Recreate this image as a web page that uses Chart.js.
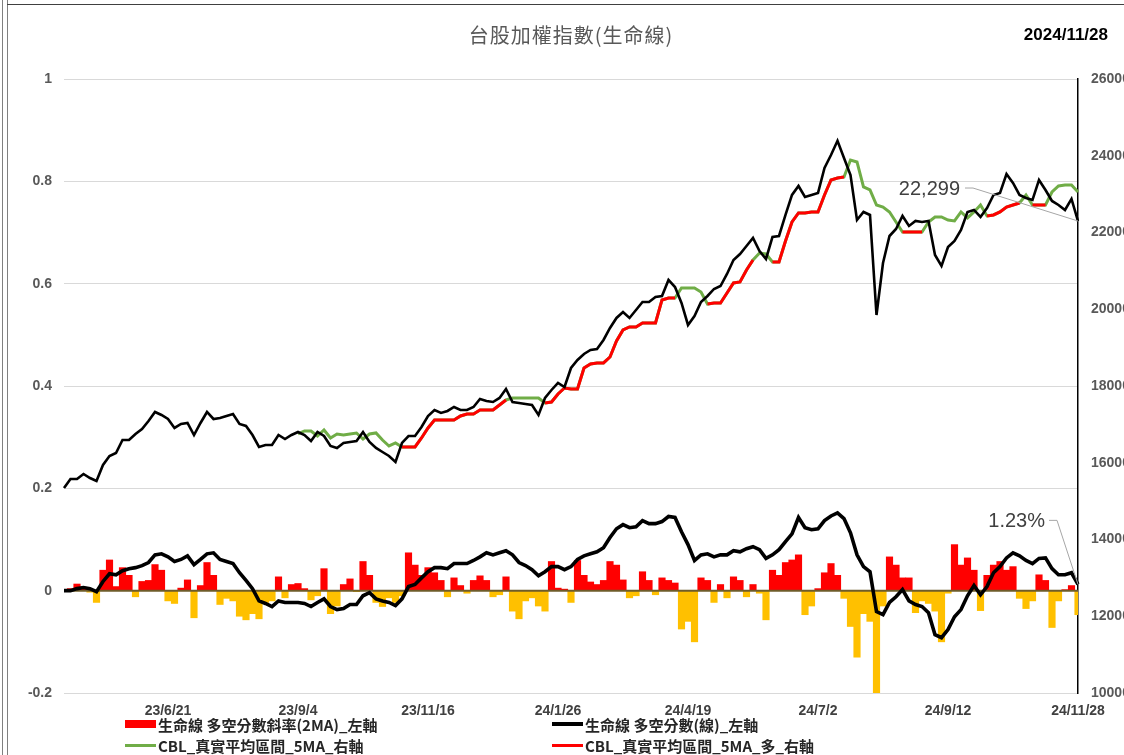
<!DOCTYPE html>
<html>
<head>
<meta charset="utf-8">
<script src="https://cdn.jsdelivr.net/npm/chart.js@4.4.1/dist/chart.umd.min.js"></script>
<style>
  html, body { margin: 0; padding: 0; background: #fff; overflow: hidden; }
  #wrap { position: relative; width: 1124px; height: 755px; }
  #chart { position: absolute; left: 0; top: 0; }
  .frame-l { position: absolute; left: 2px; top: 0; width: 4px; height: 755px; border-left: 1px solid #808080; border-right: 1px solid #808080; }
  .frame-t { position: absolute; left: 7px; top: 4px; right: 0; border-top: 1px solid #404040; }
  #title { position: absolute; left: 64px; width: 1014px; top: 23px; text-align: center; font: 20px 'Noto Sans CJK TC', sans-serif; letter-spacing: 1px; color: #595959; line-height: 24px; }
  #date { position: absolute; right: 16px; top: 24px; font: bold 17px 'Liberation Sans', Arial, sans-serif; color: #000; line-height: 22px; }
  .lg { position: absolute; display: flex; align-items: center; height: 20px; font: bold 15px 'Noto Sans CJK TC', sans-serif; color: #262626; white-space: nowrap; }
  .lg .sw { display: inline-block; width: 31px; margin-right: 2px; }
</style>
</head>
<body>
<div id="wrap">
  <canvas id="chart" width="1124" height="755"></canvas>
  <div class="frame-l"></div>
  <div class="frame-t"></div>
  <div id="title">台股加權指數(生命線)</div>
  <div id="date">2024/11/28</div>
</div>
<script>
// x axis labels, one every 20 points counted from the first labelled point
const tickLabels = ['23/6/21', '23/9/4', '23/11/16', '24/1/26', '24/4/19', '24/7/2', '24/9/12', '24/11/28'];
const firstTick = 16;
const tickEvery = 20;

// 加權指數 (right axis)
const taiex = [
  15342, 15577, 15577, 15707, 15603, 15525, 15942, 16176, 16254, 16593,
  16593, 16750, 16880, 17088, 17323, 17245, 17140, 16906, 17010, 17036,
  16723, 17036, 17323, 17140, 17167, 17219, 17271, 17010, 16958, 16723,
  16411, 16463, 16463, 16723, 16619, 16723, 16802, 16723, 16567, 16802,
  16697, 16437, 16385, 16515, 16541, 16567, 16802, 16541, 16385, 16280,
  16176, 16020, 16515, 16697, 16697, 16932, 17219, 17375, 17297, 17349,
  17453, 17375, 17375, 17453, 17662, 17610, 17583, 17688, 17922, 17583,
  17557, 17531, 17505, 17245, 17688, 17896, 18079, 17974, 18470, 18678,
  18834, 18939, 18965, 19199, 19512, 19773, 19929, 19773, 19981, 20189,
  20189, 20320, 20346, 20763, 20580, 20163, 19590, 19825, 20189, 20346,
  20528, 20606, 20919, 21284, 21440, 21649, 21857, 21519, 21310, 21883,
  21909, 22457, 22978, 23212, 22926, 22978, 23030, 23682, 24020, 24390,
  23942, 23499, 22326, 22535, 22457, 19850, 21206, 21909, 22092, 22431,
  22170, 22300, 22274, 22300, 21414, 21128, 21623, 21779, 22066, 22535,
  22587, 22405, 22639, 22978, 23030, 23525, 23291, 22978, 22900, 22848,
  23369, 23108, 22822, 22717, 22587, 22874, 22299
];

// CBL 真實平均區間 5MA (right axis), starts at point 36
const cbl = [
  null, null, null, null, null, null, null, null, null, null,
  null, null, null, null, null, null, null, null, null, null,
  null, null, null, null, null, null, null, null, null, null,
  null, null, null, null, null, null, 16750, 16828, 16828, 16697,
  16854, 16645, 16750, 16723, 16750, 16776, 16619, 16750, 16776, 16593,
  16437, 16515, 16411, 16411, 16411, 16645, 16906, 17114, 17114, 17114,
  17114, 17219, 17271, 17271, 17375, 17375, 17375, 17505, 17636, 17688,
  17688, 17688, 17688, 17688, 17557, 17583, 17792, 17948, 17922, 17922,
  18470, 18574, 18600, 18600, 18756, 19173, 19460, 19538, 19538, 19642,
  19642, 19642, 20242, 20294, 20294, 20554, 20554, 20554, 20450, 20137,
  20163, 20163, 20424, 20685, 20711, 21023, 21284, 21466, 21440, 21232,
  21232, 21779, 22274, 22509, 22509, 22535, 22535, 22978, 23369, 23421,
  23447, 23890, 23838, 23186, 23108, 22717, 22665, 22535, 22274, 22014,
  22014, 22014, 22014, 22274, 22405, 22405, 22326, 22300, 22535, 22379,
  22535, 22717, 22431, 22457, 22535, 22665, 22717, 22769, 22978, 22717,
  22717, 22717, 23056, 23212, 23238, 23238, 23056
];

// stretches (first, last point) where CBL is in the 多 state
const bullRuns = [[52, 68], [74, 94], [99, 106], [109, 120], [129, 132], [142, 147], [149, 151]];

// 生命線 多空分數 (left axis)
const score = [
  0.000, 0.000, 0.004, 0.006, 0.004, -0.002, 0.018, 0.033, 0.031, 0.039,
  0.043, 0.045, 0.049, 0.055, 0.070, 0.072, 0.066, 0.057, 0.061, 0.068,
  0.051, 0.061, 0.072, 0.074, 0.061, 0.057, 0.053, 0.035, 0.020, 0.004,
  -0.020, -0.025, -0.031, -0.020, -0.023, -0.023, -0.023, -0.025, -0.031, -0.023,
  -0.016, -0.031, -0.037, -0.035, -0.027, -0.027, -0.010, -0.004, -0.016, -0.020,
  -0.023, -0.029, -0.016, 0.008, 0.012, 0.025, 0.037, 0.045, 0.045, 0.043,
  0.053, 0.053, 0.053, 0.059, 0.066, 0.074, 0.070, 0.074, 0.078, 0.070,
  0.055, 0.049, 0.041, 0.029, 0.037, 0.047, 0.047, 0.041, 0.047, 0.061,
  0.068, 0.072, 0.076, 0.084, 0.104, 0.121, 0.129, 0.123, 0.125, 0.137,
  0.131, 0.131, 0.135, 0.145, 0.143, 0.115, 0.090, 0.059, 0.070, 0.072,
  0.066, 0.070, 0.070, 0.078, 0.076, 0.082, 0.086, 0.080, 0.063, 0.070,
  0.080, 0.096, 0.111, 0.143, 0.123, 0.119, 0.121, 0.137, 0.146, 0.152,
  0.141, 0.113, 0.070, 0.047, 0.037, -0.041, -0.047, -0.023, -0.012, 0.002,
  -0.020, -0.027, -0.031, -0.043, -0.086, -0.092, -0.076, -0.051, -0.037, -0.010,
  0.010, -0.008, 0.008, 0.035, 0.047, 0.064, 0.074, 0.068, 0.059, 0.053,
  0.063, 0.064, 0.043, 0.031, 0.031, 0.035, 0.0123
];

// 生命線 多空分數斜率 (2MA) (left axis)
const slope = [
  0.002, 0.004, 0.013, 0.006, -0.003, -0.023, 0.040, 0.060, 0.008, 0.045,
  0.030, -0.012, 0.018, 0.020, 0.051, 0.040, -0.020, -0.025, 0.005, 0.021,
  -0.053, 0.010, 0.055, 0.030, -0.027, -0.015, -0.020, -0.050, -0.057, -0.045,
  -0.055, -0.023, -0.020, 0.027, -0.014, 0.012, 0.014, 0.004, -0.018, -0.010,
  0.043, -0.045, -0.030, 0.012, 0.023, -0.002, 0.057, 0.030, -0.023, -0.031,
  -0.014, -0.023, -0.010, 0.074, 0.050, 0.030, 0.045, 0.035, 0.020, -0.012,
  0.025, 0.010, -0.005, 0.020, 0.029, 0.020, -0.012, -0.008, 0.027, -0.040,
  -0.055, -0.020, -0.014, -0.030, -0.040, 0.057, 0.005, 0.003, -0.023, 0.059,
  0.030, 0.017, 0.012, 0.020, 0.057, 0.050, 0.021, -0.014, -0.010, 0.037,
  0.020, -0.008, 0.025, 0.020, 0.015, -0.075, -0.060, -0.100, 0.025, 0.020,
  -0.023, 0.012, -0.014, 0.027, 0.020, -0.012, 0.012, -0.005, -0.057, 0.040,
  0.030, 0.055, 0.060, 0.070, -0.047, -0.030, 0.004, 0.035, 0.053, 0.030,
  -0.015, -0.070, -0.130, -0.045, -0.060, -0.200, -0.030, 0.066, 0.050, 0.025,
  0.025, -0.043, -0.020, -0.025, -0.040, -0.100, -0.005, 0.090, 0.050, 0.064,
  0.040, -0.039, 0.030, 0.050, 0.057, 0.040, 0.047, -0.015, -0.035, -0.020,
  0.031, 0.020, -0.072, -0.020, 0.002, 0.010, -0.047
];

const labels = taiex.map((_, i) => (i - firstTick) % tickEvery === 0 ? tickLabels[(i - firstTick) / tickEvery] : '');
const cblBull = cbl.map((v, i) => bullRuns.some(([a, b]) => i >= a && i <= b) ? v : null);
const last = taiex.length - 1;

const numFont = "'Liberation Sans', Arial, sans-serif";

// zero line over the bars, and the two end-value call-outs
const overlay = {
  id: 'overlay',
  afterDatasetDraw(chart, args) {
    if (args.index !== 4) return;
    const ctx = chart.ctx;
    const y = chart.scales.y.getPixelForValue(0);
    ctx.save();
    ctx.strokeStyle = '#6e5c2a';
    ctx.lineWidth = 2;
    ctx.beginPath();
    ctx.moveTo(chart.chartArea.left, y);
    ctx.lineTo(chart.chartArea.right, y);
    ctx.stroke();
    ctx.restore();
  },
  afterDatasetsDraw(chart) {
    const ctx = chart.ctx;
    const x = chart.scales.x.getPixelForValue(last);
    const yT = chart.scales.y1.getPixelForValue(taiex[last]);
    const yS = chart.scales.y.getPixelForValue(score[last]);
    ctx.save();
    ctx.strokeStyle = '#a6a6a6';
    ctx.lineWidth = 1;
    ctx.beginPath();
    ctx.moveTo(x - 113, yT - 33);
    ctx.lineTo(x - 105, yT - 33);
    ctx.lineTo(x, yT);
    ctx.moveTo(x - 29, yS - 64);
    ctx.lineTo(x - 21, yS - 64);
    ctx.lineTo(x, yS);
    ctx.stroke();
    ctx.fillStyle = '#404040';
    ctx.font = '20px ' + numFont;
    ctx.textAlign = 'right';
    ctx.textBaseline = 'middle';
    ctx.fillText(taiex[last].toLocaleString('en-US'), x - 118, yT - 32);
    ctx.fillText((score[last] * 100).toFixed(2) + '%', x - 33, yS - 63);
    ctx.restore();
  }
};

const chart = new Chart(document.getElementById('chart'), {
  data: {
    labels: labels,
    datasets: [
      { type: 'line', label: '加權指數', data: taiex, yAxisID: 'y1', borderColor: '#000000', borderWidth: 2.6, pointRadius: 0, order: 0 },
      { type: 'line', label: 'CBL_真實平均區間_5MA_多_右軸', data: cblBull, yAxisID: 'y1', borderColor: '#FF0000', borderWidth: 3, pointRadius: 0, order: 1 },
      { type: 'line', label: 'CBL_真實平均區間_5MA_右軸', data: cbl, yAxisID: 'y1', borderColor: '#70AD47', borderWidth: 3, pointRadius: 0, order: 2 },
      { type: 'line', label: '生命線 多空分數(線)_左軸', data: score, yAxisID: 'y', borderColor: '#000000', borderWidth: 3.6, pointRadius: 0, order: 3 },
      {
        type: 'bar', label: '生命線 多空分數斜率(2MA)_左軸', data: slope, yAxisID: 'y',
        backgroundColor: ctx => ctx.raw >= 0 ? '#FF0000' : '#FFC000',
        barPercentage: 1, categoryPercentage: 1, order: 4
      }
    ]
  },
  options: {
    responsive: false,
    animation: false,
    devicePixelRatio: 1,
    layout: { padding: { top: 79, left: 0, right: 0, bottom: 0 } },
    plugins: { legend: { display: false }, tooltip: { enabled: false } },
    scales: {
      x: {
        offset: false,
        grid: { display: false, drawTicks: false },
        border: { display: false },
        ticks: { autoSkip: false, maxRotation: 0, padding: 10, color: '#404040', font: { family: numFont, size: 14, weight: 'bold' } },
        afterFit: s => { s.height = 62; }
      },
      y: {
        position: 'left', min: -0.2, max: 1,
        border: { display: false },
        grid: {
          drawTicks: false,
          color: c => c.tick.value === 0 ? 'rgba(0,0,0,0)' : '#d9d9d9',
          lineWidth: 1
        },
        ticks: { stepSize: 0.2, padding: 12, color: '#595959', font: { family: numFont, size: 14, weight: 'bold' }, callback: v => Math.round(v * 10) / 10 },
        afterFit: s => { s.width = 64; }
      },
      y1: {
        position: 'right', min: 10000, max: 26000,
        grid: { display: false, drawTicks: false },
        border: { display: true, color: '#000000', width: 1.5 },
        ticks: { stepSize: 2000, padding: 13, color: '#595959', font: { family: numFont, size: 14, weight: 'bold' }, callback: v => String(v) },
        afterFit: s => { s.width = 46; }
      }
    }
  },
  plugins: [overlay]
});

// legend, two rows of two, built from the dataset labels
const legendItems = [
  { ds: 4, left: 125, top: 714, color: '#FF0000', h: 8 },
  { ds: 3, left: 552, top: 714, color: '#000000', h: 4 },
  { ds: 2, left: 125, top: 735, color: '#70AD47', h: 3 },
  { ds: 1, left: 552, top: 735, color: '#FF0000', h: 3 }
];
const wrap = document.getElementById('wrap');
legendItems.forEach(item => {
  const div = document.createElement('div');
  div.className = 'lg';
  div.style.left = item.left + 'px';
  div.style.top = item.top + 'px';
  const sw = document.createElement('span');
  sw.className = 'sw';
  sw.style.height = item.h + 'px';
  sw.style.background = item.color;
  const txt = document.createElement('span');
  txt.textContent = chart.data.datasets[item.ds].label;
  div.appendChild(sw);
  div.appendChild(txt);
  wrap.appendChild(div);
});
</script>
</body>
</html>
